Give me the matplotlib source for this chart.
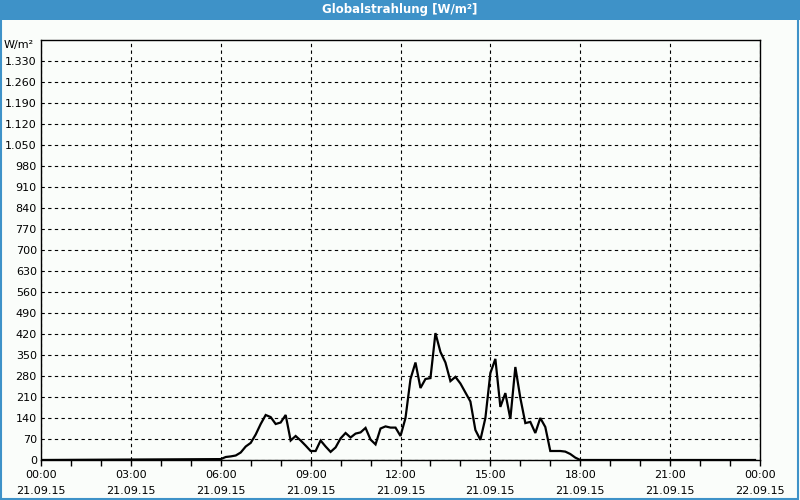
import matplotlib
matplotlib.use("Agg")
from matplotlib import pyplot as plt
from matplotlib.patches import Rectangle
import numpy as np

# 10-minute readings from 06:00 to 18:00, W/m2
day_start = "06:00"
day_values = [3, 10, 12, 15, 25, 45, 57, 85, 120, 150, 143, 120, 125, 150,
              65, 80, 65, 48, 30, 30, 65, 45, 27, 42, 72, 90, 75, 88, 92, 107,
              68, 52, 105, 112, 108, 108, 80, 140, 270, 325, 240, 270, 273,
              423, 360, 325, 263, 277, 255, 225, 195, 100, 67, 140, 290, 337,
              177, 223, 137, 310, 207, 123, 127, 90, 140, 110, 30, 30, 30, 28,
              20, 8, 0]
night_times = ["00:00", "23:50"]
night_values = [0, 0]

y_ticks = list(range(0, 1400, 70))
x_tick_labels = ["00:00\n21.09.15", "03:00\n21.09.15", "06:00\n21.09.15",
                 "09:00\n21.09.15", "12:00\n21.09.15", "15:00\n21.09.15",
                 "18:00\n21.09.15", "21:00\n21.09.15", "00:00\n22.09.15"]


def hours(s):
    h, m = s.split(":")
    return int(h) + int(m) / 60


h0 = hours(day_start)
t = [hours(night_times[0])] + [h0 + i / 6 for i in range(len(day_values))] + [hours(night_times[1])]
v = [night_values[0]] + day_values + [night_values[1]]

bg = "#fafdfa"
blue = "#3e92c8"

fig = plt.figure(figsize=(8, 5), dpi=100, facecolor=bg)
fig.patches.append(Rectangle((0, 0.96), 1, 0.04, transform=fig.transFigure,
                             facecolor=blue, edgecolor="none", zorder=0))
fig.patches.append(Rectangle((0.001, 0.002), 0.997, 0.996, transform=fig.transFigure,
                             facecolor="none", edgecolor=blue, lw=1.5, zorder=1))
fig.text(0.5, 0.981, "Globalstrahlung [W/m²]", color="white", fontsize=8.5,
         fontweight="bold", ha="center", va="center")

ax = fig.add_axes([0.05125, 0.08, 0.89875, 0.84])
ax.set_facecolor(bg)
ax.plot(t, v, color="black", lw=1.6, solid_joinstyle="miter")

ax.set_xlim(0, 24)
ax.set_ylim(0, 1400)
ax.set_yticks(y_ticks)
ax.set_yticklabels([f"{y:,}".replace(",", ".") for y in y_ticks], fontsize=8)
ax.set_xticks(range(0, 25, 3))
ax.set_xticks(range(0, 25), minor=True)
ax.set_xticklabels(x_tick_labels, fontsize=8, linespacing=1.75)
ax.tick_params(axis="y", length=0, pad=3)
ax.tick_params(axis="x", which="both", length=4, width=1, pad=3, direction="out")
ax.grid(True, which="major", color="black", lw=0.8, linestyle=(0, (3, 3)))
for s in ax.spines.values():
    s.set_linewidth(1.0)
ax.text(-0.01, 0.988, "W/m²", transform=ax.transAxes, fontsize=8,
        ha="right", va="center")

fig.savefig("out.png", dpi=100, facecolor=bg)
